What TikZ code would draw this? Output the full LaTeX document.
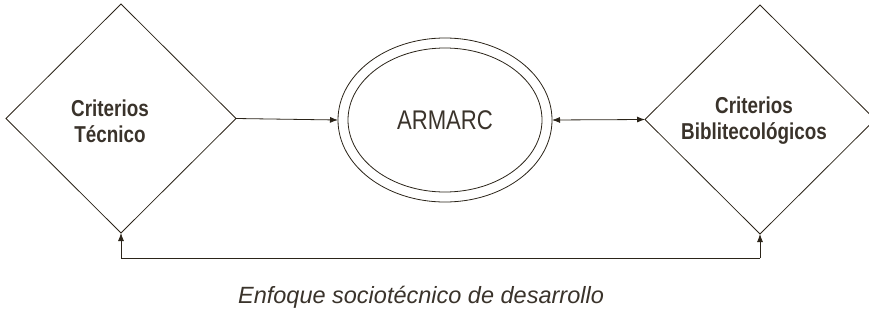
\documentclass[tikz,border=0pt]{standalone}
\usepackage{fontspec}
\setmainfont{Liberation Sans}
\newfontfamily\condfont[FakeStretch=0.82]{Liberation Sans}
\usetikzlibrary{arrows.meta,shapes.geometric}
\definecolor{ink}{HTML}{2B2419}
\definecolor{txt}{HTML}{3A332B}
\begin{document}
\begin{tikzpicture}[x=1pt,y=-1pt,
  line width=0.8pt, draw=ink,
  every node/.style={inner sep=0pt,outer sep=0pt},
  arr/.style={-{Latex[length=8pt,width=6pt]},draw=ink,line width=0.8pt},
  darr/.style={{Latex[length=8pt,width=6pt]}-{Latex[length=8pt,width=6pt]},draw=ink,line width=0.8pt},
  dia/.style={diamond,draw=ink,line width=0.8pt,minimum width=230pt,minimum height=229pt,aspect=1},
  lbl/.style={text=txt,font=\condfont\bfseries\fontsize{23}{26}\selectfont,align=center},
]
\useasboundingbox (0,0) rectangle (869,324);
\node[dia] (L) at (121,118.5) {};
\node[dia] (R) at (760,119.5) {};
\node[lbl] (Lt) at (110,121) {Criterios\\Técnico};
\node[lbl] (Rt) at (754,121) {Criterios\\Biblitecológicos};
\node[ellipse,draw=ink,minimum width=214pt,minimum height=164pt] (E) at (445,120) {};
\node[ellipse,draw=ink,minimum width=194pt,minimum height=144pt] (Ei) at (445,120) {};
\node[text=txt,font=\condfont\fontsize{27}{30}\selectfont] (Et) at (445,120) {ARMARC};
\draw[arr] (L.east) -- (E.west);
\draw[darr] (E.east) -- (R.west);
\coordinate (bl) at (L.south |- 0,258);
\coordinate (br) at (R.south |- 0,258);
\draw[arr] (bl) -- (L.south);
\draw[arr] (br) -- (R.south);
\draw (bl) -- (br);
\node[text=txt,font=\itshape\fontsize{23.5}{26}\selectfont] (cap) at (421,297) {Enfoque sociotécnico de desarrollo};
\end{tikzpicture}
\end{document}
